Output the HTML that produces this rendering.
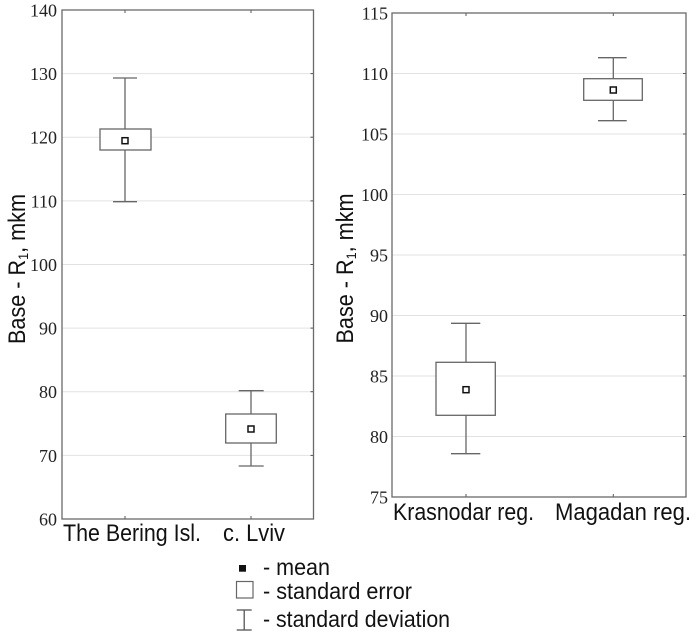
<!DOCTYPE html>
<html><head><meta charset="utf-8"><style>
html,body{margin:0;padding:0;background:#fff;}
svg{display:block;}
.tk{font-family:"Liberation Serif",serif;font-size:18px;fill:#222;text-anchor:end;}
.lb{font-family:"Liberation Sans",sans-serif;font-size:24px;fill:#111;}
.lg{font-family:"Liberation Sans",sans-serif;font-size:23px;fill:#111;}
</style></head><body>
<svg width="700" height="644" viewBox="0 0 700 644" xmlns="http://www.w3.org/2000/svg">
<rect width="700" height="644" fill="#fff"/>
<!-- LEFT PANEL -->
<g stroke="#e2e2e2" stroke-width="1">
<line x1="62" x2="313.5" y1="73.6" y2="73.6"/>
<line x1="62" x2="313.5" y1="137.2" y2="137.2"/>
<line x1="62" x2="313.5" y1="200.9" y2="200.9"/>
<line x1="62" x2="313.5" y1="264.5" y2="264.5"/>
<line x1="62" x2="313.5" y1="328.1" y2="328.1"/>
<line x1="62" x2="313.5" y1="391.7" y2="391.7"/>
<line x1="62" x2="313.5" y1="455.4" y2="455.4"/>
</g>
<g stroke="#555" stroke-width="1">
<line x1="310.5" x2="313.5" y1="73.6" y2="73.6"/>
<line x1="310.5" x2="313.5" y1="137.2" y2="137.2"/>
<line x1="310.5" x2="313.5" y1="200.9" y2="200.9"/>
<line x1="310.5" x2="313.5" y1="264.5" y2="264.5"/>
<line x1="310.5" x2="313.5" y1="328.1" y2="328.1"/>
<line x1="310.5" x2="313.5" y1="391.7" y2="391.7"/>
<line x1="310.5" x2="313.5" y1="455.4" y2="455.4"/>
<line x1="125" x2="125" y1="10" y2="13"/>
<line x1="251" x2="251" y1="10" y2="13"/>
<line x1="125" x2="125" y1="516" y2="519"/>
<line x1="251" x2="251" y1="516" y2="519"/>
</g>
<rect x="62" y="10" width="251.5" height="509" fill="none" stroke="#6a6a6a" stroke-width="1.3"/>
<g class="tk">
<text x="57" y="16.5">140</text>
<text x="57" y="80.1">130</text>
<text x="57" y="143.7">120</text>
<text x="57" y="207.4">110</text>
<text x="57" y="271">100</text>
<text x="57" y="334.6">90</text>
<text x="57" y="398.2">80</text>
<text x="57" y="461.9">70</text>
<text x="57" y="525.5">60</text>
</g>
<g stroke="#666" stroke-width="1.3" fill="none">
<line x1="125" x2="125" y1="78" y2="129"/>
<line x1="125" x2="125" y1="150" y2="201.7"/>
<line x1="113" x2="137" y1="78" y2="78"/>
<line x1="113" x2="137" y1="201.7" y2="201.7"/>
<rect x="100" y="129" width="51" height="21" fill="#fff"/>
<line x1="251" x2="251" y1="390.7" y2="414"/>
<line x1="251" x2="251" y1="443" y2="466"/>
<line x1="238.7" x2="263.7" y1="390.7" y2="390.7"/>
<line x1="238.7" x2="263.7" y1="466" y2="466"/>
<rect x="225.7" y="414" width="50.6" height="29" fill="#fff"/>
</g>
<g stroke="#111" stroke-width="1.5" fill="#fff">
<rect x="122" y="137.7" width="6" height="6"/>
<rect x="248" y="426" width="6" height="6"/>
</g>
<text class="lb" x="63" y="541" textLength="138" lengthAdjust="spacingAndGlyphs">The Bering Isl.</text>
<text class="lb" x="223" y="541" textLength="62" lengthAdjust="spacingAndGlyphs">c. Lviv</text>
<text class="lb" transform="translate(25,269) rotate(-90)" x="-75" y="0" textLength="150" lengthAdjust="spacingAndGlyphs">Base - R<tspan font-size="14" dy="3">1</tspan><tspan dy="-3">, mkm</tspan></text>

<!-- RIGHT PANEL -->
<g stroke="#e2e2e2" stroke-width="1">
<line x1="392" x2="686" y1="73.5" y2="73.5"/>
<line x1="392" x2="686" y1="134" y2="134"/>
<line x1="392" x2="686" y1="194.5" y2="194.5"/>
<line x1="392" x2="686" y1="255" y2="255"/>
<line x1="392" x2="686" y1="315.5" y2="315.5"/>
<line x1="392" x2="686" y1="376" y2="376"/>
<line x1="392" x2="686" y1="436.5" y2="436.5"/>
</g>
<g stroke="#555" stroke-width="1">
<line x1="683" x2="686" y1="73.5" y2="73.5"/>
<line x1="683" x2="686" y1="134" y2="134"/>
<line x1="683" x2="686" y1="194.5" y2="194.5"/>
<line x1="683" x2="686" y1="255" y2="255"/>
<line x1="683" x2="686" y1="315.5" y2="315.5"/>
<line x1="683" x2="686" y1="376" y2="376"/>
<line x1="683" x2="686" y1="436.5" y2="436.5"/>
<line x1="466" x2="466" y1="13" y2="16"/>
<line x1="613.3" x2="613.3" y1="13" y2="16"/>
<line x1="466" x2="466" y1="494" y2="497"/>
<line x1="613.3" x2="613.3" y1="494" y2="497"/>
</g>
<rect x="392" y="13" width="294" height="484" fill="none" stroke="#6a6a6a" stroke-width="1.3"/>
<g class="tk">
<text x="388" y="19.5">115</text>
<text x="388" y="80">110</text>
<text x="388" y="140.5">105</text>
<text x="388" y="201">100</text>
<text x="388" y="261.5">95</text>
<text x="388" y="322">90</text>
<text x="388" y="382.5">85</text>
<text x="388" y="443">80</text>
<text x="388" y="503.5">75</text>
</g>
<g stroke="#666" stroke-width="1.3" fill="none">
<line x1="466" x2="466" y1="323.3" y2="362.3"/>
<line x1="466" x2="466" y1="415.3" y2="453.7"/>
<line x1="451" x2="480.3" y1="323.3" y2="323.3"/>
<line x1="451" x2="480.3" y1="453.7" y2="453.7"/>
<rect x="436" y="362.3" width="59.3" height="53" fill="#fff"/>
<line x1="613.3" x2="613.3" y1="57.7" y2="78.7"/>
<line x1="613.3" x2="613.3" y1="100.3" y2="120.7"/>
<line x1="598" x2="626.7" y1="57.7" y2="57.7"/>
<line x1="598" x2="626.7" y1="120.7" y2="120.7"/>
<rect x="583.7" y="78.7" width="58.6" height="21.6" fill="#fff"/>
</g>
<g stroke="#111" stroke-width="1.5" fill="#fff">
<rect x="463" y="386.7" width="6" height="6"/>
<rect x="610.3" y="87" width="6" height="6"/>
</g>
<text class="lb" x="393" y="520" textLength="141" lengthAdjust="spacingAndGlyphs">Krasnodar reg.</text>
<text class="lb" x="555" y="520" textLength="136" lengthAdjust="spacingAndGlyphs">Magadan reg.</text>
<text class="lb" transform="translate(353,268.5) rotate(-90)" x="-75" y="0" textLength="150" lengthAdjust="spacingAndGlyphs">Base - R<tspan font-size="14" dy="3">1</tspan><tspan dy="-3">, mkm</tspan></text>

<!-- LEGEND -->
<rect x="239" y="565" width="7" height="6.7" fill="#111"/>
<text class="lg" x="263" y="575" textLength="67" lengthAdjust="spacingAndGlyphs">- mean</text>
<rect x="236.5" y="581.5" width="16.5" height="16.5" fill="none" stroke="#666" stroke-width="1.2"/>
<text class="lg" x="263" y="599" textLength="149" lengthAdjust="spacingAndGlyphs">- standard error</text>
<g stroke="#555" stroke-width="1.3">
<line x1="236.7" x2="251.7" y1="610" y2="610"/>
<line x1="236.7" x2="251.7" y1="630" y2="630"/>
<line x1="244.2" x2="244.2" y1="610" y2="630"/>
</g>
<text class="lg" x="263" y="627" textLength="187" lengthAdjust="spacingAndGlyphs">- standard deviation</text>
</svg>
</body></html>
